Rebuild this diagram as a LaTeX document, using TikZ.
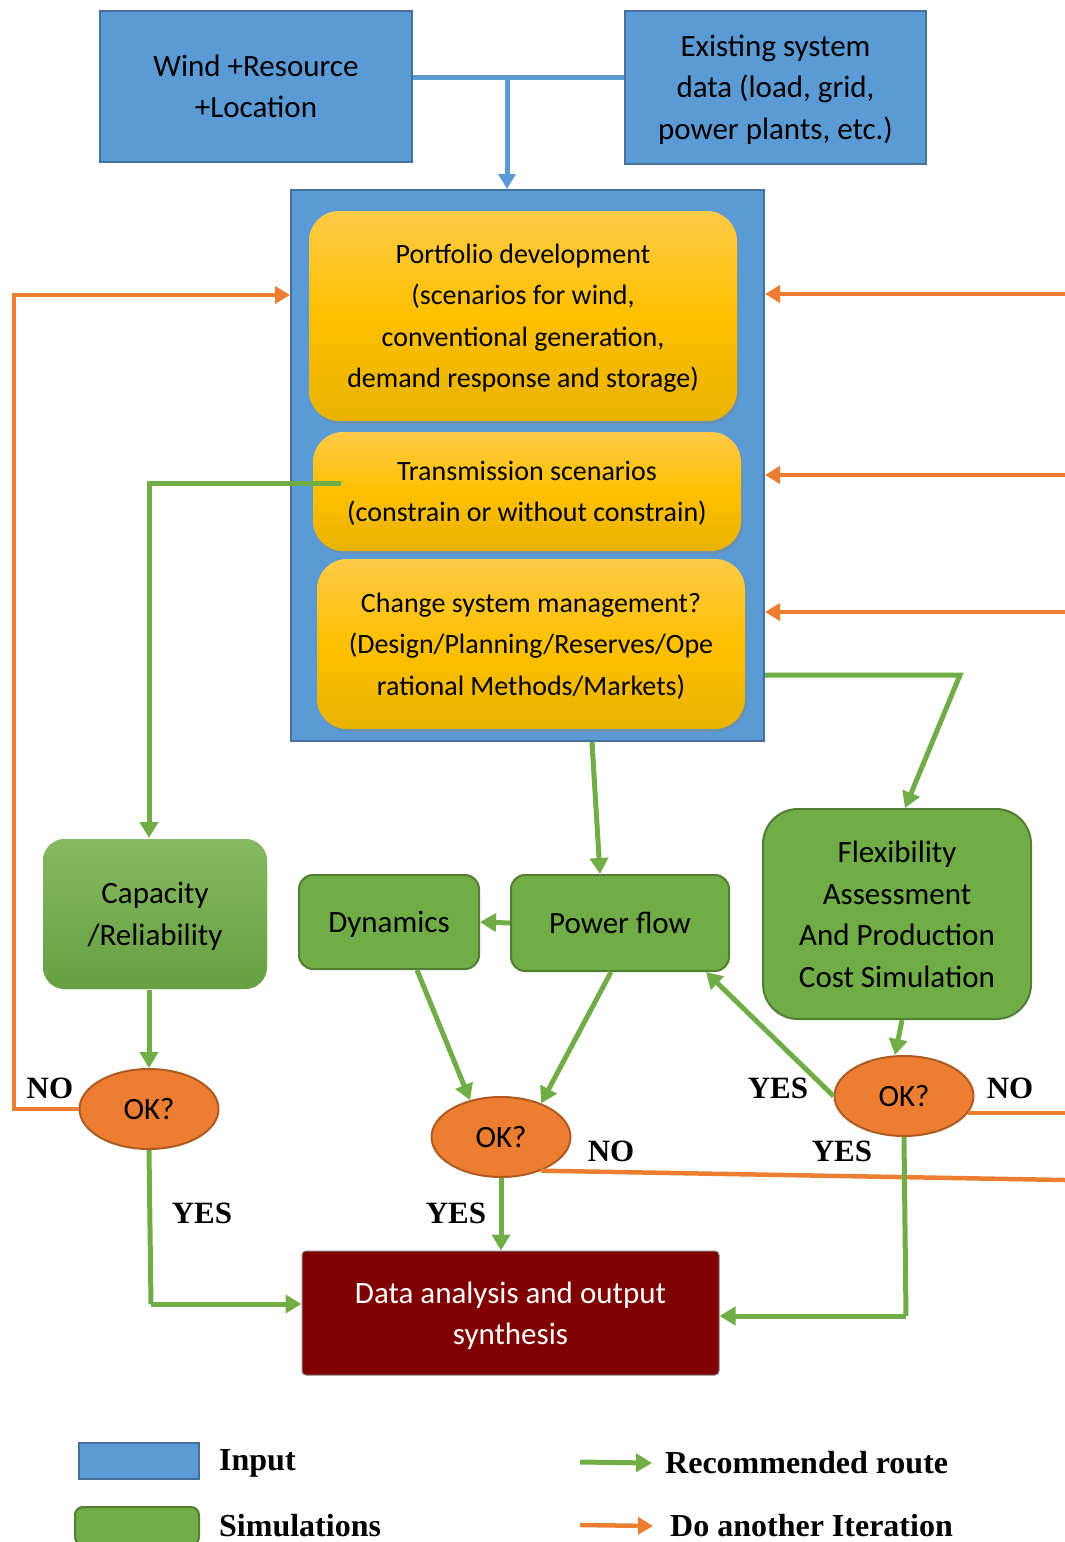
\documentclass[tikz,border=0pt]{standalone}
\usepackage{fontspec}
\setmainfont{Carlito}
\newfontfamily\labfont{Liberation Serif}
\usetikzlibrary{shapes.geometric,arrows.meta,shadows}
\definecolor{inblue}{RGB}{91,155,213}
\definecolor{inblueline}{RGB}{65,113,156}
\definecolor{simgreen}{RGB}{112,173,71}
\definecolor{simgreenline}{RGB}{80,126,50}
\definecolor{okorange}{RGB}{237,125,49}
\definecolor{okorangeline}{RGB}{174,90,33}
\definecolor{scenyellow}{RGB}{255,192,0}
\definecolor{scentop}{RGB}{255,202,72}
\definecolor{scenbottom}{RGB}{232,178,0}
\definecolor{outred}{RGB}{128,0,0}

\begin{document}
\begin{tikzpicture}[x=1pt,y=-1pt,
  inbox/.style={draw=inblueline, fill=inblue, line width=2pt, inner sep=0pt, text depth=0pt, align=center, font=\fontsize{31}{41.5}\selectfont},
  scenbox/.style={rounded corners=30pt, top color=scentop, bottom color=scenbottom, middle color=scenyellow, inner sep=0pt, text depth=0pt, align=center, font=\fontsize{28}{41.5}\selectfont, drop shadow={shadow xshift=2pt, shadow yshift=-3pt, opacity=0.35}},
  simbox/.style={draw=simgreenline, fill=simgreen, line width=2pt, rounded corners=14pt, inner sep=0pt, text depth=0pt, align=center, font=\fontsize{31}{41.5}\selectfont},
  okbox/.style={ellipse, draw=okorangeline, fill=okorange, line width=2pt, inner sep=0pt, minimum width=139pt, minimum height=80pt, font=\fontsize{31}{31}\selectfont},
  rec/.style={draw=simgreen, line width=5pt, -{Triangle[length=16pt,width=18pt]}},
  recline/.style={draw=simgreen, line width=5pt},
  iter/.style={draw=okorange, line width=4.5pt, -{Triangle[length=15pt,width=17pt]}},
  iterline/.style={draw=okorange, line width=4.5pt},
  feed/.style={draw=inblue, line width=5pt},
  yn/.style={font=\labfont\bfseries\fontsize{31}{31}\selectfont},
  legtext/.style={anchor=west, inner sep=0pt, font=\labfont\bfseries\fontsize{32}{32}\selectfont}]
\useasboundingbox (0,0) rectangle (1065,1542);
% inputs
\node[inbox, minimum width=312pt, minimum height=151pt] (wind) at (256,86) {Wind +Resource\\+Location};
\node[inbox, minimum width=301pt, minimum height=153pt] (exist) at (775.5,87) {Existing system\\data (load, grid,\\power plants, etc.)};
\node[inbox, minimum width=473pt, minimum height=551pt] (plan) at (527.5,465.5) {};
\node[scenbox, minimum width=428pt, minimum height=210pt] (port) at (523,316) {Portfolio development\\(scenarios for wind,\\conventional generation,\\demand response and storage)};
\node[scenbox, minimum width=428pt, minimum height=119pt] (trans) at (527,491.5) {Transmission scenarios\\(constrain or without constrain)};
\node[scenbox, minimum width=428pt, minimum height=170pt] (mgmt) at (531,644) {Change system management?\\(Design/Planning/Reserves/Ope\\rational Methods/Markets)};
% simulations
\node[simbox, draw=none, top color=simgreen!85!white, bottom color=simgreen!92!black, rounded corners=22pt, minimum width=224pt, minimum height=150pt] (cap) at (155,914) {Capacity\\/Reliability};
\node[simbox, minimum width=180pt, minimum height=94pt] (dyn) at (389,922) {Dynamics};
\node[simbox, minimum width=218pt, minimum height=96pt] (pflow) at (620,923) {Power flow};
\node[simbox, rounded corners=35pt, minimum width=268pt, minimum height=210pt] (flex) at (897,914) {Flexibility\\Assessment\\And Production\\Cost Simulation};
\node[okbox] (ok1) at (149,1109) {OK?};
\node[okbox] (ok2) at (501,1137) {OK?};
\node[okbox] (ok3) at (904,1096) {OK?};
\node[fill=outred, draw=gray, line width=1pt, rounded corners=4pt, inner sep=0pt, text depth=0pt, minimum width=417pt, minimum height=124pt, align=center, text=white, font=\fontsize{31}{41.5}\selectfont] (data) at (510.5,1313) {Data analysis and output\\synthesis};
% connectors
\coordinate (jt) at (507,77);
\draw[feed] (wind.east |- jt) -- (exist.west |- jt);
\draw[feed, -{Triangle[length=15pt,width=17pt]}] (jt) -- (jt |- plan.north);
\coordinate (r1) at (1065,294);
\coordinate (r2) at (1065,475);
\coordinate (r3) at (1065,612);
\draw[iter] (r1) -- (plan.east |- r1);
\draw[iter] (r2) -- (plan.east |- r2);
\draw[iter] (r3) -- (plan.east |- r3);
\coordinate (l2) at (14,295);
\draw[iter] (ok1.west) -| (l2) -- (plan.west |- l2);
\coordinate (ts) at (341,483);
\draw[rec] (ts) -| (cap.north -| ok1.north);
\draw[rec] (ok1.north |- cap.south) -- (ok1.north);
\coordinate (c1) at (151,1304);
\draw[recline] (ok1.south) -- (c1);
\draw[rec] (c1) -- (data.west |- c1);
\coordinate (ps) at (592,742);
\draw[rec] (ps) -- ([xshift=-20pt]pflow.north);
\draw[rec] (pflow.west) -- (dyn.east);
\draw[rec] ([xshift=28pt]dyn.south) -- (ok2.130);
\draw[rec] ([xshift=-9pt]pflow.south) -- (ok2.40);
\draw[rec] (ok2.south) -- (ok2.south |- data.north);
\coordinate (r4) at (1065,1180);
\draw[iterline] (ok2.-40) -- (r4);
\coordinate (ms) at (765,675);
\coordinate (fb) at (960,675);
\draw[rec] (ms) -- (fb) -- ([xshift=8pt]flex.north);
\draw[rec] ([xshift=5pt]flex.south) -- ([xshift=-9pt]ok3.north);
\draw[rec] (ok3.west) -- ([xshift=-24pt]pflow.south east);
\coordinate (r5) at (1065,1113);
\draw[iterline] (ok3.-15) -- (ok3.-15 -| r5);
\coordinate (c3) at (906,1316);
\draw[recline] (ok3.south) -- (c3);
\draw[rec] (c3) -- (data.east |- c3);
% answers
\node[yn] (no1) at (50,1088) {NO};
\node[yn] (yes1) at (202,1213) {YES};
\node[yn] (no2) at (611,1151) {NO};
\node[yn] (yes2) at (456,1213) {YES};
\node[yn] (yes3) at (778,1088) {YES};
\node[yn] (no3) at (1010,1088) {NO};
\node[yn] (yes4) at (842,1151) {YES};
% legend
\node[inbox, minimum width=120pt, minimum height=36pt] (lgin) at (139,1461) {};
\node[legtext] (lgintext) at (219,1463) {Input};
\node[simbox, rounded corners=8pt, minimum width=124pt, minimum height=38pt] (lgsim) at (137,1526) {};
\node[legtext] (lgsimtext) at (219,1526) {Simulations};
\node[legtext] (lgrec) at (665,1463) {Recommended route};
\node[legtext] (lgiter) at (670,1526) {Do another Iteration};
\coordinate (ga) at (580,1462);
\coordinate (oa) at (580,1525);
\draw[rec] (ga) -- ([xshift=-13pt]lgrec.west);
\draw[iter] (oa) -- ([xshift=-17pt]lgiter.west);
\end{tikzpicture}
\end{document}
